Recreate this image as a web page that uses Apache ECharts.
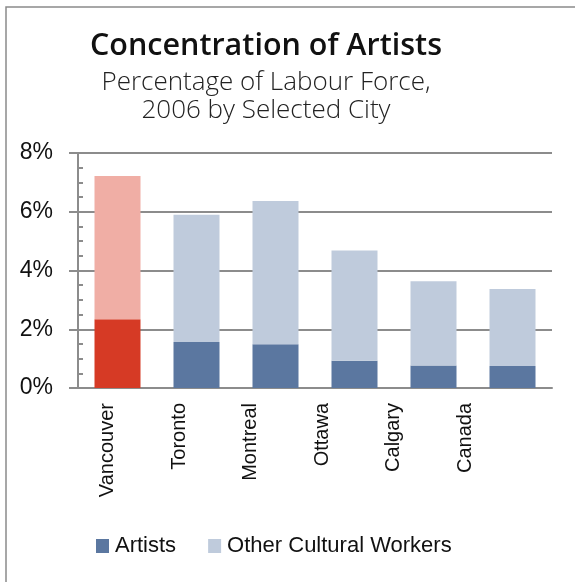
<!DOCTYPE html>
<html>
<head>
<meta charset="utf-8">
<script src="https://cdn.jsdelivr.net/npm/echarts@6/dist/echarts.min.js"></script>
<style>
  html, body { margin: 0; padding: 0; background: #ffffff; }
  #chart { width: 575px; height: 582px; }
</style>
</head>
<body>
<div id="chart"></div>
<script>
// Share of the labour force, 2006 (percent)
const cities = ['Vancouver', 'Toronto', 'Montreal', 'Ottawa', 'Calgary', 'Canada'];
const artists = [2.34, 1.57, 1.49, 0.93, 0.77, 0.75];
const otherCulturalWorkers = [4.88, 4.33, 4.88, 3.75, 2.86, 2.62];
const yTicks = [0, 2, 4, 6, 8];

const BLUE_DARK = '#5b77a0';
const BLUE_LIGHT = '#bfcbdc';
const RED_DARK = '#d63a25';
const RED_LIGHT = '#f0aea5';
const GRID_GREY = '#8c8c8c';

// Vancouver is highlighted in red
function colored(values, base, highlight) {
  return values.map((v, i) => ({
    value: v,
    itemStyle: { color: i === 0 ? highlight : base }
  }));
}

const chart = echarts.init(document.getElementById('chart'), null, { renderer: 'canvas' });

chart.setOption({
  animation: false,
  backgroundColor: '#ffffff',
  textStyle: { fontFamily: '"Liberation Sans", Arial, sans-serif' },
  title: [
    {
      text: 'Concentration of Artists',
      left: 261, top: 26, textAlign: 'center',
      textStyle: { fontFamily: '"Open Sans", Lato, sans-serif', fontSize: 30.5, fontWeight: 600, color: '#111111', lineHeight: 30 }
    },
    {
      text: 'Percentage of Labour Force,\n2006 by Selected City',
      left: 261, top: 64, textAlign: 'center',
      textStyle: { fontFamily: '"Open Sans", Lato, sans-serif', fontSize: 26, fontWeight: 300, color: '#222222', lineHeight: 28 }
    }
  ],
  legend: {
    left: 91, top: 530,
    itemWidth: 13, itemHeight: 14, itemGap: 32,
    icon: 'rect',
    textStyle: { fontFamily: '"Liberation Sans", Arial, sans-serif', fontSize: 22, color: '#111111', padding: [0, 0, 0, 1] },
    data: [
      { name: 'Artists', itemStyle: { color: BLUE_DARK } },
      { name: 'Other Cultural Workers', itemStyle: { color: BLUE_LIGHT } }
    ]
  },
  graphic: [
    {
      type: 'rect', silent: true, z: -1,
      shape: { x: 6, y: 7, width: 700, height: 700 },
      style: { fill: null, stroke: '#8a8a8a', lineWidth: 1.5 }
    }
  ],
  grid: [
    { left: 78, right: 23, top: 153, bottom: 194 },
    // label strip for the city names
    { left: 72, right: 74, top: 153, bottom: 194 }
  ],
  xAxis: [
    {
      type: 'category', gridIndex: 0, data: cities,
      axisLine: { lineStyle: { color: GRID_GREY, width: 2 } },
      axisTick: { show: false },
      axisLabel: { show: false }
    },
    {
      type: 'category', gridIndex: 1, data: cities,
      axisLine: { show: false },
      axisTick: { show: false },
      axisLabel: {
        rotate: 90, margin: 15,
        fontFamily: '"Liberation Sans", Arial, sans-serif', fontSize: 20, color: '#111111'
      }
    }
  ],
  yAxis: [
    {
      type: 'value', gridIndex: 0, position: 'left',
      min: yTicks[0], max: yTicks[yTicks.length - 1], interval: 2,
      axisLine: { show: true, lineStyle: { color: GRID_GREY, width: 2 } },
      axisTick: { show: true, inside: false, length: 9, lineStyle: { color: GRID_GREY, width: 2 } },
      splitLine: { show: true, lineStyle: { color: GRID_GREY, width: 2 } },
      axisLabel: {
        margin: 25, formatter: '{value}%',
        fontFamily: '"Liberation Sans", Arial, sans-serif', fontSize: 23, color: '#111111'
      }
    },
    {
      // minor ticks every 0.5%, drawn inside the plot
      type: 'value', gridIndex: 0, position: 'left', offset: 0,
      min: 0, max: 8, interval: 0.5,
      axisLine: { show: false },
      axisTick: { show: true, inside: true, length: 5, lineStyle: { color: GRID_GREY, width: 2 } },
      splitLine: { show: false },
      axisLabel: { show: false }
    },
    { type: 'value', gridIndex: 1, show: false, min: 0, max: 8 }
  ],
  series: [
    {
      name: 'Artists', type: 'bar', stack: 'total',
      xAxisIndex: 0, yAxisIndex: 0, barWidth: 46,
      data: colored(artists, BLUE_DARK, RED_DARK)
    },
    {
      name: 'Other Cultural Workers', type: 'bar', stack: 'total',
      xAxisIndex: 0, yAxisIndex: 0, barWidth: 46,
      data: colored(otherCulturalWorkers, BLUE_LIGHT, RED_LIGHT)
    }
  ]
});
</script>
</body>
</html>
